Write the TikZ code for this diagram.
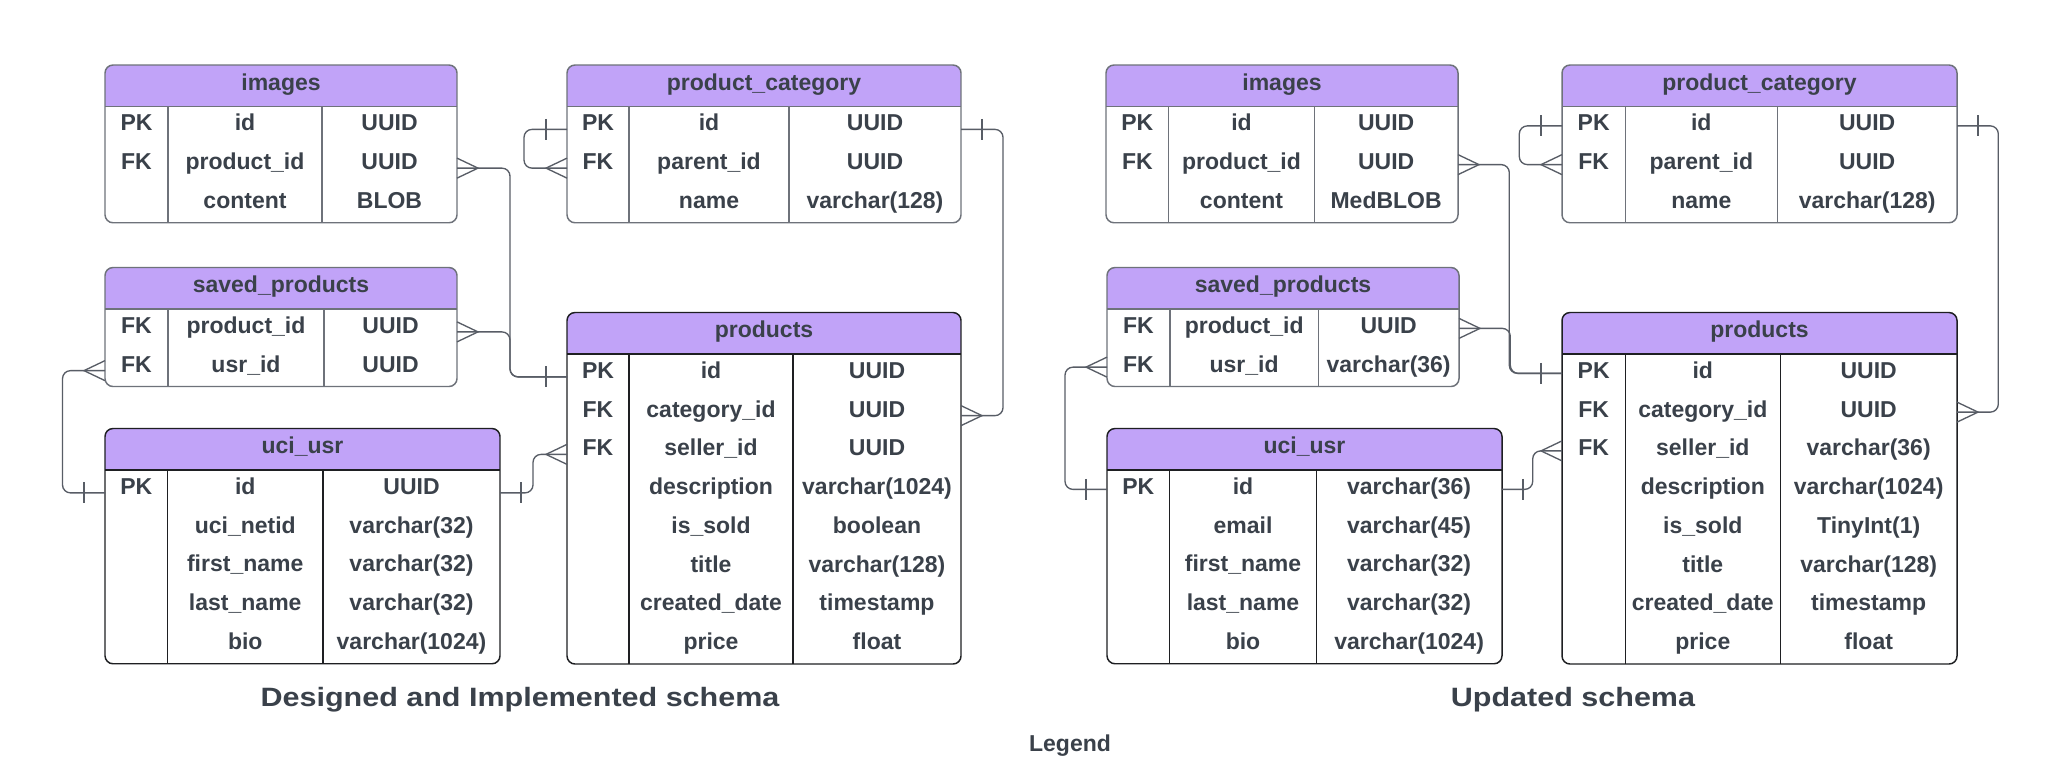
\documentclass[tikz,border=0pt]{standalone}
\usepackage{fontspec}
\setmainfont{Liberation Sans}
\newfontfamily\titlefam[FakeStretch=1.15]{Liberation Sans}
\usetikzlibrary{fit,calc}
\definecolor{textc}{HTML}{3A414A}
\definecolor{hdrc}{HTML}{C1A3F8}
\definecolor{bgray}{HTML}{6E727A}
\definecolor{bblack}{HTML}{1E1F22}
\definecolor{connc}{HTML}{585D66}
\newcommand\tabfont{\fontsize{17.25pt}{20pt}\selectfont\bfseries}
\newcommand\ttlfont{\titlefam\fontsize{19.9pt}{23pt}\selectfont\bfseries}
\tikzset{
  gb/.style={draw=bgray},
  bb/.style={draw=bblack},
  tline/.style={line width=1.1pt},
  hdrfill/.style={fill=hdrc},
  txt/.style={font=\tabfont, text=textc, inner sep=0pt},
  ttl/.style={font=\ttlfont, text=textc, inner sep=0pt},
  conn/.style={draw=connc, line width=1pt, rounded corners=6pt},
  foot/.style={draw=connc, line width=1pt},
}
% #1 name, #2 x1, #3 x2, #4 ytop, #5 c1, #6 c2, #7 border style, #8 title, #9 rows
\newcommand\ertable[9]{%
  \foreach \eq [count=\en] in {#9}{\xdef\ernrows{\en}}%
  \pgfmathsetmacro\erh{#4+41.5}%
  \pgfmathsetmacro\erb{\erh+\ernrows*38.75}%
  \begin{scope}
    \clip[rounded corners=6pt] (#2,#4) rectangle (#3,\erb);
    \fill[white] (#2,#4) rectangle (#3,\erb);
    \fill[hdrfill] (#2,#4) rectangle (#3,\erh);
  \end{scope}
  \draw[#7, tline] (#2,\erh) -- (#3,\erh) (#5,\erh) -- (#5,\erb) (#6,\erh) -- (#6,\erb);
  \node[#7, tline, rounded corners=6pt, fit={(#2,#4) (#3,\erb)}, inner sep=0pt] (#1) {};
  \node[txt, anchor=base] (#1-h) at ({(#2+#3)/2}, #4+25) {#8};
  \foreach \ek/\ef/\et [count=\ei] in {#9}{
    \pgfmathsetmacro\ert{\erh+(\ei-1)*38.75}
    \node[txt, anchor=base] (#1-\ei-k) at ({(#2+#5)/2}, \ert+24.3) {\ek};
    \node[txt, anchor=base] (#1-\ei-f) at ({(#5+#6)/2}, \ert+24.3) {\ef};
    \node[txt, anchor=base] (#1-\ei-t) at ({(#6+#3)/2}, \ert+24.3) {\et};
    \coordinate (#1-\ei-L) at (#2, \ert+19.375+\cdy);
    \coordinate (#1-\ei-R) at (#3, \ert+19.375+\cdy);
  }
}
\newcommand\crowR[1]{\draw[foot] ($(#1)+(0,-10)$) -- ($(#1)+(21,0)$) -- ($(#1)+(0,10)$);}
\newcommand\crowL[1]{\draw[foot] ($(#1)+(0,-10)$) -- ($(#1)+(-21,0)$) -- ($(#1)+(0,10)$);}
\newcommand\barR[1]{\draw[foot] ($(#1)+(21,-10.5)$) -- ($(#1)+(21,10.5)$);}
\newcommand\barL[1]{\draw[foot] ($(#1)+(-21,-10.5)$) -- ($(#1)+(-21,10.5)$);}
\begin{document}
\begin{tikzpicture}[x=0.75pt, y=-0.75pt]
\useasboundingbox (0,0) rectangle (2048,758);
\clip (0,0) rectangle (2048,758);
\fill[white] (0,0) rectangle (2048,758);

% ---------------- left schema ----------------
\def\cdy{3.5}
\ertable{Limg}{105}{457}{65}{168}{322}{gb}{images}{PK/id/UUID,FK/product\_id/UUID,/content/BLOB}
\ertable{Lpc}{567}{961}{65}{629}{789}{gb}{product\_category}{PK/id/UUID,FK/parent\_id/UUID,/name/varchar(128)}
\ertable{Lsav}{105}{457}{267.5}{168}{324}{gb}{saved\_products}{FK/product\_id/UUID,FK/usr\_id/UUID}
\ertable{Lprod}{567}{961}{312.5}{629}{793}{bb}{products}{PK/id/UUID,FK/category\_id/UUID,FK/seller\_id/UUID,/description/varchar(1024),/is\_sold/boolean,/title/varchar(128),/created\_date/timestamp,/price/float}
\ertable{Luci}{105}{500}{470-41.5}{167.5}{323}{bb}{uci\_usr}{PK/id/UUID,/uci\_netid/varchar(32),/first\_name/varchar(32),/last\_name/varchar(32),/bio/varchar(1024)}

\draw[conn] (Limg-2-R) -- ++(53,0) |- (Lprod-1-L);
\draw[conn] (Lsav-1-R) -- ++(53,0) |- (Lprod-1-L);
\crowR{Limg-2-R} \crowR{Lsav-1-R} \barL{Lprod-1-L}
\draw[conn] (Lpc-1-L) -- ++(-43,0) |- (Lpc-2-L);
\barL{Lpc-1-L} \crowL{Lpc-2-L}
\draw[conn] (Lpc-1-R) -- ++(42,0) |- (Lprod-2-R);
\barR{Lpc-1-R} \crowR{Lprod-2-R}
\draw[conn] (Lsav-2-L) -- ++(-42.5,0) |- (Luci-1-L);
\crowL{Lsav-2-L} \barL{Luci-1-L}
\draw[conn] (Luci-1-R) -- ++(33,0) |- (Lprod-3-L);
\barR{Luci-1-R} \crowL{Lprod-3-L}

% ---------------- right schema ----------------
\def\cdy{0}
\ertable{Rimg}{1106}{1458}{65}{1168.7}{1314.3}{gb}{images}{PK/id/UUID,FK/product\_id/UUID,/content/MedBLOB}
\ertable{Rpc}{1562}{1957}{65}{1625.3}{1777.3}{gb}{product\_category}{PK/id/UUID,FK/parent\_id/UUID,/name/varchar(128)}
\ertable{Rsav}{1107}{1459}{267.5}{1170}{1318.3}{gb}{saved\_products}{FK/product\_id/UUID,FK/usr\_id/varchar(36)}
\ertable{Rprod}{1562}{1957}{312.5}{1625.3}{1780.3}{bb}{products}{PK/id/UUID,FK/category\_id/UUID,FK/seller\_id/varchar(36),/description/varchar(1024),/is\_sold/TinyInt(1),/title/varchar(128),/created\_date/timestamp,/price/float}
\ertable{Ruci}{1107}{1502}{470-41.5}{1169.7}{1316.3}{bb}{uci\_usr}{PK/id/varchar(36),/email/varchar(45),/first\_name/varchar(32),/last\_name/varchar(32),/bio/varchar(1024)}

\draw[conn] (Rimg-2-R) -- ++(51.3,0) |- (Rprod-1-L);
\draw[conn] (Rsav-1-R) -- ++(51.3,0) |- (Rprod-1-L);
\crowR{Rimg-2-R} \crowR{Rsav-1-R} \barL{Rprod-1-L}
\draw[conn] (Rpc-1-L) -- ++(-42.7,0) |- (Rpc-2-L);
\barL{Rpc-1-L} \crowL{Rpc-2-L}
\draw[conn] (Rpc-1-R) -- ++(41.3,0) |- (Rprod-2-R);
\barR{Rpc-1-R} \crowR{Rprod-2-R}
\draw[conn] (Rsav-2-L) -- ++(-42,0) |- (Ruci-1-L);
\crowL{Rsav-2-L} \barL{Ruci-1-L}
\draw[conn] (Ruci-1-R) -- ++(30.7,0) |- (Rprod-3-L);
\barR{Ruci-1-R} \crowL{Rprod-3-L}

% ---------------- titles ----------------
\node[ttl, anchor=base] (t1) at (520, 706.5) {Designed and Implemented schema};
\node[ttl, anchor=base] (t2) at (1573, 706.5) {Updated schema};
\node[txt, anchor=base] (leg) at (1070, 751.5) {Legend};
\end{tikzpicture}
\end{document}
